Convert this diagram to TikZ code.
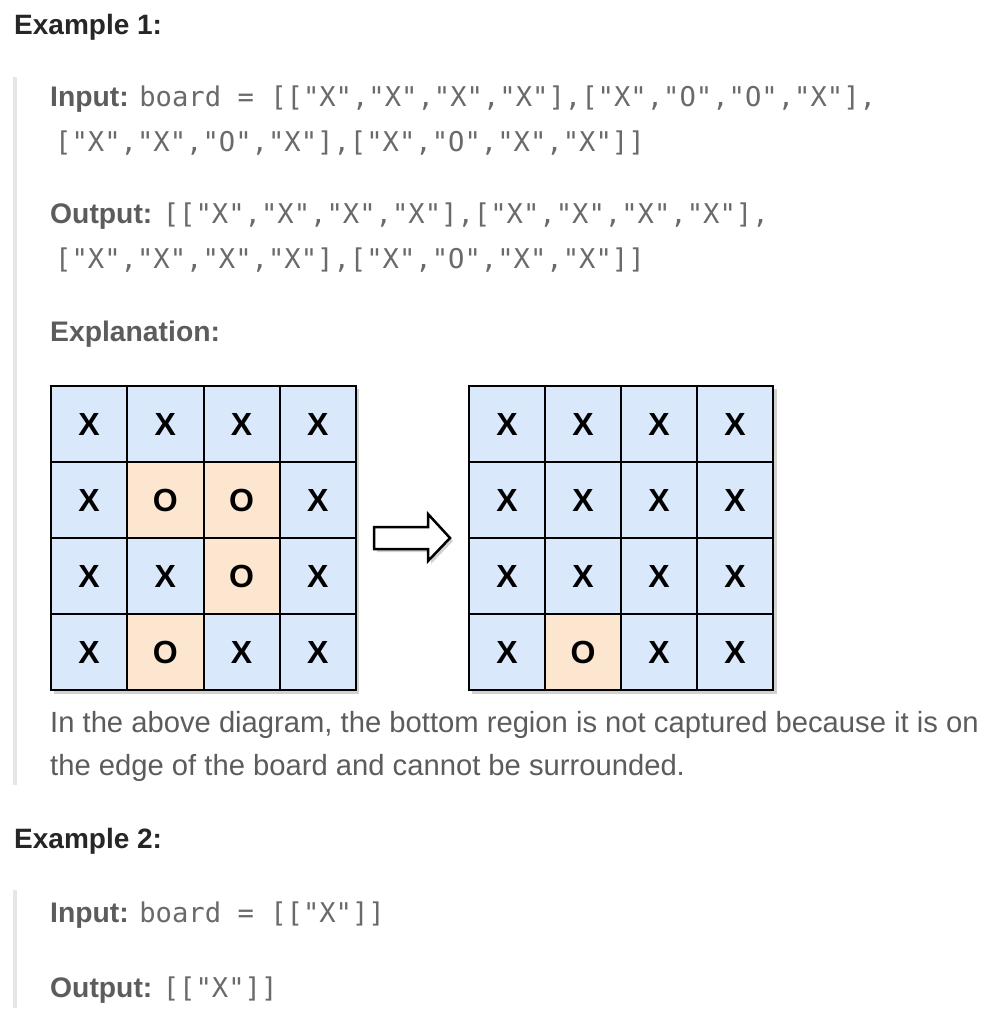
\documentclass[tikz,border=0pt]{standalone}
\usepackage{fontspec}
\setmainfont{Liberation Sans}
\newfontfamily\codefont{DejaVu Sans Mono}
\definecolor{headc}{HTML}{262626}
\definecolor{labc}{HTML}{5C5C5C}
\definecolor{codec}{HTML}{6A6A6A}
\definecolor{barc}{HTML}{E6E6E6}
\definecolor{bx}{HTML}{DAE8FC}
\definecolor{or}{HTML}{FCE6CF}
\tikzset{
  head/.style={anchor=base west,inner sep=0pt,text=headc,font=\fontsize{28}{30}\selectfont\bfseries},
  line/.style={anchor=base west,inner sep=0pt,text=labc,font=\fontsize{28.3}{30}\selectfont},
  para/.style={anchor=base west,inner sep=0pt,text=labc,font=\fontsize{29.2}{30}\selectfont},
  cell/.style={draw=black,line width=2pt,minimum width=76.25pt,minimum height=76pt,inner sep=0pt,font=\fontsize{32}{32}\selectfont\bfseries},
}
\newcommand{\lab}[1]{{\bfseries #1}}
\newcommand{\cd}[1]{{\codefont\fontsize{27.2}{30}\selectfont\color{codec}#1}}
\begin{document}
\begin{tikzpicture}[x=1pt,y=-1pt]
\fill[white] (0,0) rectangle (1004,1024);
\useasboundingbox (0,0) rectangle (1004,1024);
% side bars
\fill[barc] (13,77) rectangle (17,785);
\fill[barc] (13,890) rectangle (17,1008);
% headings
\node[head] (ex1) at (14,35) {Example 1:};
\node[head] (ex2) at (14,848) {Example 2:};
% example 1 text
\node[line] (in1) at (50,107) {\lab{Input:} \cd{board = [["X","X","X","X"],["X","O","O","X"],}};
\node[line] (in2) at (55,152) {\cd{["X","X","O","X"],["X","O","X","X"]]}};
\node[line] (out1) at (50,224) {\lab{Output:} \cd{[["X","X","X","X"],["X","X","X","X"],}};
\node[line] (out2) at (55,268) {\cd{["X","X","X","X"],["X","O","X","X"]]}};
\node[line] (expl) at (50,341) {\lab{Explanation:}};
% shadows
\fill[black,opacity=0.18] (54,389) rectangle (359,694);
\fill[black,opacity=0.18] (472,389) rectangle (777,694);
% left grid
\foreach \c/\f [count=\i from 0] in {X/bx,X/bx,X/bx,X/bx,X/bx,O/or,O/or,X/bx,X/bx,X/bx,O/or,X/bx,X/bx,O/or,X/bx,X/bx}{
  \pgfmathtruncatemacro{\rr}{int(\i/4)}
  \pgfmathtruncatemacro{\cc}{mod(\i,4)}
  \node[cell,fill=\f] (L\i) at ({51+76.25*(\cc+0.5)},{386+76*(\rr+0.5)}) {\c};
}
% right grid
\foreach \c/\f [count=\i from 0] in {X/bx,X/bx,X/bx,X/bx,X/bx,X/bx,X/bx,X/bx,X/bx,X/bx,X/bx,X/bx,X/bx,O/or,X/bx,X/bx}{
  \pgfmathtruncatemacro{\rr}{int(\i/4)}
  \pgfmathtruncatemacro{\cc}{mod(\i,4)}
  \node[cell,fill=\f] (R\i) at ({469+76*(\cc+0.5)},{386+76*(\rr+0.5)}) {\c};
}
% block arrow
\fill[black,opacity=0.18] (377,530) -- (431,530) -- (431,517) -- (453,541) -- (431,564) -- (431,552) -- (377,552) -- cycle;
\draw[line width=2.5pt,fill=white,line join=miter] (374,527) -- (428,527) -- (428,514) -- (450,538) -- (428,561) -- (428,549) -- (374,549) -- cycle;
% paragraph
\node[para] (p1) at (50,732) {In the above diagram, the bottom region is not captured because it is on};
\node[para] (p2) at (50,775) {the edge of the board and cannot be surrounded.};
% example 2 text
\node[line] (in3) at (50,922) {\lab{Input:} \cd{board = [["X"]]}};
\node[line] (out3) at (50,997) {\lab{Output:} \cd{[["X"]]}};
\end{tikzpicture}
\end{document}
